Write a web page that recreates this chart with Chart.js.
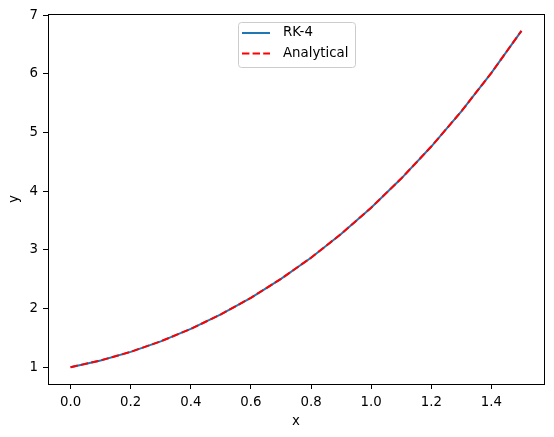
<!DOCTYPE html>
<html>
<head>
<meta charset="utf-8">
<script src="https://cdn.jsdelivr.net/npm/chart.js@4"></script>
<style>
body { margin: 0; background: #fff; }
#wrap { width: 554px; height: 437px; }
</style>
</head>
<body>
<div id="wrap"><canvas id="rkChart" width="554" height="437"></canvas></div>
<script>
// values
const xValues = [0.0, 0.1, 0.2, 0.3, 0.4, 0.5, 0.6, 0.7, 0.8, 0.9, 1.0, 1.1, 1.2, 1.3, 1.4, 1.5];
const rk4Values = [1.000, 1.115, 1.261, 1.440, 1.652, 1.899, 2.182, 2.504, 2.865, 3.270, 3.718, 4.214, 4.760, 5.359, 6.015, 6.732];
const analyticalValues = [1.000, 1.115, 1.261, 1.440, 1.652, 1.899, 2.182, 2.504, 2.865, 3.270, 3.718, 4.214, 4.760, 5.359, 6.015, 6.732];
const xTicks = [0.0, 0.2, 0.4, 0.6, 0.8, 1.0, 1.2, 1.4];
const yTicks = [1, 2, 3, 4, 5, 6, 7];

const FONT = { family: '"DejaVu Sans", sans-serif', size: 13.33 };

// matplotlib-like 5% margins
function padRange(vals) {
    const lo = Math.min(...vals), hi = Math.max(...vals);
    const m = (hi - lo) * 0.05;
    return [lo - m, hi + m];
}
const [xMin, xMax] = padRange(xValues);
const [yMin, yMax] = padRange(rk4Values.concat(analyticalValues));

const toPoints = ys => xValues.map((x, i) => ({ x: x, y: ys[i] }));

/* frame round the plot area */
const frame = {
    id: 'frame',
    afterDraw(chart) {
        const a = chart.chartArea, ctx = chart.ctx;
        ctx.save();
        ctx.strokeStyle = '#000';
        ctx.lineWidth = 1;
        ctx.strokeRect(Math.round(a.left) + 0.5, Math.round(a.top) + 0.5,
            Math.round(a.right - a.left), Math.round(a.bottom - a.top));
        ctx.restore();
    }
};

/* legend box inside the plot, top centre */
const boxLegend = {
    id: 'boxLegend',
    afterDraw(chart) {
        const a = chart.chartArea, ctx = chart.ctx;
        const w = 117, h = 45;
        const x0 = Math.round((a.left + a.right) / 2 - w / 2), y0 = Math.round(a.top + 8);
        ctx.save();
        ctx.fillStyle = 'rgba(255,255,255,0.8)';
        ctx.strokeStyle = '#cccccc';
        ctx.lineWidth = 1;
        ctx.beginPath();
        ctx.roundRect(x0 + 0.5, y0 + 0.5, w, h, 3);
        ctx.fill();
        ctx.stroke();
        ctx.font = FONT.size + 'px ' + FONT.family;
        ctx.textBaseline = 'middle';
        chart.data.datasets.forEach((ds, i) => {
            const y = y0 + 11 + i * 20.6;
            ctx.strokeStyle = ds.borderColor;
            ctx.lineWidth = ds.borderWidth;
            ctx.setLineDash(ds.borderDash || []);
            ctx.beginPath();
            ctx.moveTo(x0 + 4, y);
            ctx.lineTo(x0 + 32, y);
            ctx.stroke();
            ctx.setLineDash([]);
            ctx.fillStyle = '#000';
            ctx.fillText(ds.label, x0 + 45, y);
        });
        ctx.restore();
    }
};

const ctx = document.getElementById('rkChart').getContext('2d');
const rkChart = new Chart(ctx, {
    type: 'line',
    data: {
        datasets: [{
            label: 'RK-4',
            data: toPoints(rk4Values),
            borderColor: '#1f77b4',
            borderWidth: 2,
            pointRadius: 0,
            tension: 0,
            fill: false,
            order: 1
        }, {
            label: 'Analytical',
            data: toPoints(analyticalValues),
            borderColor: '#ff0000',
            borderWidth: 2,
            borderDash: [7.4, 3.2],
            pointRadius: 0,
            tension: 0,
            fill: false,
            order: 0
        }]
    },
    options: {
        responsive: false,
        animation: false,
        layout: { padding: { left: 0, right: 10, top: 14, bottom: 0 } },
        plugins: { legend: { display: false }, tooltip: { enabled: false } },
        scales: {
            x: {
                type: 'linear',
                min: xMin, max: xMax,
                afterBuildTicks: s => { s.ticks = xTicks.map(v => ({ value: v })); },
                afterFit: s => { s.height = 53; },
                ticks: { color: '#000', font: FONT, padding: 6, maxRotation: 0,
                    callback: v => v.toFixed(1) },
                grid: { drawOnChartArea: false, drawTicks: true, tickLength: 5, color: '#000', lineWidth: 1 },
                border: { display: true, color: '#000', width: 1 },
                title: { display: true, text: 'x', color: '#000', font: FONT, padding: { top: 0, bottom: 7 } }
            },
            y: {
                type: 'linear',
                min: yMin, max: yMax,
                afterBuildTicks: s => { s.ticks = yTicks.map(v => ({ value: v })); },
                afterFit: s => { s.width = 48; },
                ticks: { color: '#000', font: FONT, padding: 5, callback: v => String(v) },
                grid: { drawOnChartArea: false, drawTicks: true, tickLength: 5, color: '#000', lineWidth: 1 },
                border: { display: true, color: '#000', width: 1 },
                title: { display: true, text: 'y', color: '#000', font: FONT, padding: { top: 7, bottom: 0 } }
            }
        }
    },
    plugins: [frame, boxLegend]
});
</script>
</body>
</html>
